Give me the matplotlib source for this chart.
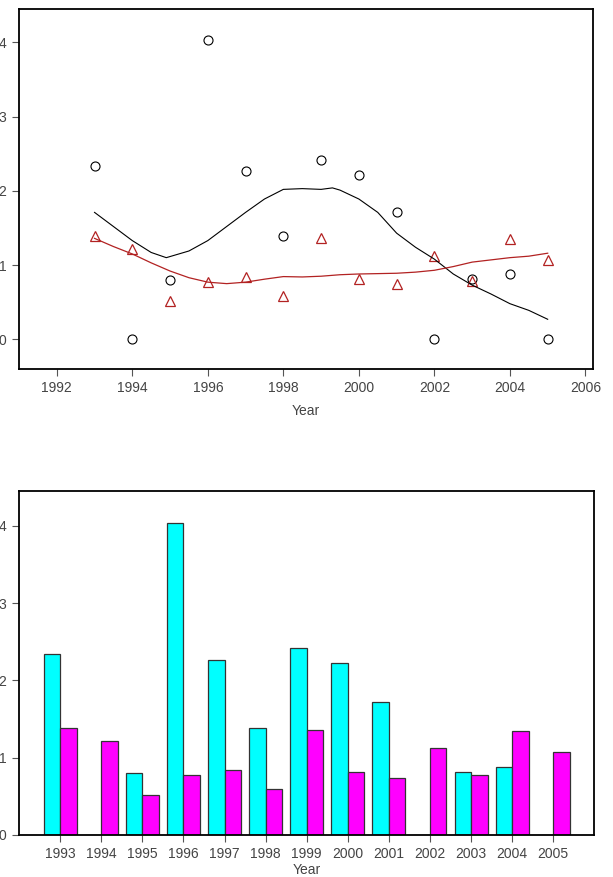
import matplotlib
matplotlib.use("Agg")
import matplotlib.pyplot as plt
import numpy as np

years = [1993, 1994, 1995, 1996, 1997, 1998, 1999, 2000, 2001, 2002, 2003, 2004, 2005]
series_a = [2.34, 0.00, 0.80, 4.03, 2.27, 1.39, 2.42, 2.22, 1.72, 0.00, 0.81, 0.88, 0.00]
series_b = [1.39, 1.22, 0.52, 0.77, 0.84, 0.59, 1.36, 0.81, 0.74, 1.12, 0.78, 1.35, 1.07]

smooth_x = [1993.0, 1993.5, 1994.0, 1994.5, 1994.9, 1995.5, 1996.0, 1996.5, 1997.0, 1997.5,
            1998.0, 1998.5, 1999.0, 1999.3, 1999.5, 2000.0, 2000.5, 2001.0, 2001.5, 2002.0,
            2002.5, 2003.0, 2003.5, 2004.0, 2004.5, 2005.0]
smooth_a = [1.71, 1.52, 1.33, 1.17, 1.10, 1.19, 1.33, 1.52, 1.71, 1.89,
            2.02, 2.03, 2.02, 2.04, 2.01, 1.89, 1.71, 1.43, 1.24, 1.08,
            0.88, 0.73, 0.61, 0.48, 0.39, 0.27]
smooth_bx = [1993.0, 1993.5, 1994.0, 1994.5, 1995.0, 1995.5, 1996.0, 1996.5, 1997.0, 1997.5,
             1998.0, 1998.5, 1999.0, 1999.5, 2000.0, 2000.5, 2001.0, 2001.5, 2002.0, 2002.5,
             2003.0, 2003.5, 2004.0, 2004.5, 2005.0]
smooth_b = [1.36, 1.25, 1.15, 1.03, 0.92, 0.83, 0.77, 0.75, 0.77, 0.81,
            0.845, 0.84, 0.85, 0.87, 0.88, 0.885, 0.89, 0.905, 0.93, 0.98,
            1.04, 1.07, 1.10, 1.12, 1.16]

xticks_top = [1992, 1994, 1996, 1998, 2000, 2002, 2004, 2006]
yticks = [0, 1, 2, 3, 4]

plt.rcParams['font.family'] = ['Liberation Sans', 'DejaVu Sans']
TXT = '#444444'
RED = '#B22222'

fig = plt.figure(figsize=(6.13, 8.77), dpi=100)

def style(ax):
    for s in ax.spines.values():
        s.set_linewidth(1.3)
        s.set_color('black')
    ax.tick_params(axis='both', direction='out', length=5, width=0.8, color='#555555',
                   labelsize=10, labelcolor=TXT, pad=4)

# Top panel
ax1 = fig.add_axes([19/613, (877-369)/877, (593-19)/613, 360/877])
ax1.plot(years, series_a, linestyle='none', marker='o', markersize=6.5,
         markerfacecolor='none', markeredgecolor='black', markeredgewidth=0.8)
ax1.plot(years, series_b, linestyle='none', marker='^', markersize=7.5,
         markerfacecolor='none', markeredgecolor=RED, markeredgewidth=0.9)
ax1.plot(smooth_x, smooth_a, color='black', linewidth=0.8)
ax1.plot(smooth_bx, smooth_b, color=RED, linewidth=0.9)
ax1.set_xlim(1991.0, 2006.2)
ax1.set_ylim(-0.40, 4.45)
ax1.set_xticks(xticks_top)
ax1.set_yticks(yticks)
ax1.set_xlabel('Year', fontsize=10, color=TXT, labelpad=6)
style(ax1)

# Bottom panel
ax2 = fig.add_axes([19/613, (877-835)/877, (594-19)/613, 344/877])
centers = np.arange(len(years)) * 2.5
ax2.bar(centers - 0.5, series_a, width=1.0, color='#00FFFF', edgecolor='#333333', linewidth=0.9)
ax2.bar(centers + 0.5, series_b, width=1.0, color='#FF00FF', edgecolor='#333333', linewidth=0.9)
ax2.set_xlim(centers[0] - 2.51, centers[-1] + 2.48)
ax2.set_ylim(0, 4.45)
ax2.set_xticks(centers)
ax2.set_xticklabels([str(y) for y in years])
ax2.set_yticks(yticks)
ax2.set_xlabel('Year', fontsize=10, color=TXT, labelpad=1)
style(ax2)

fig.savefig('out.png', dpi=100)
